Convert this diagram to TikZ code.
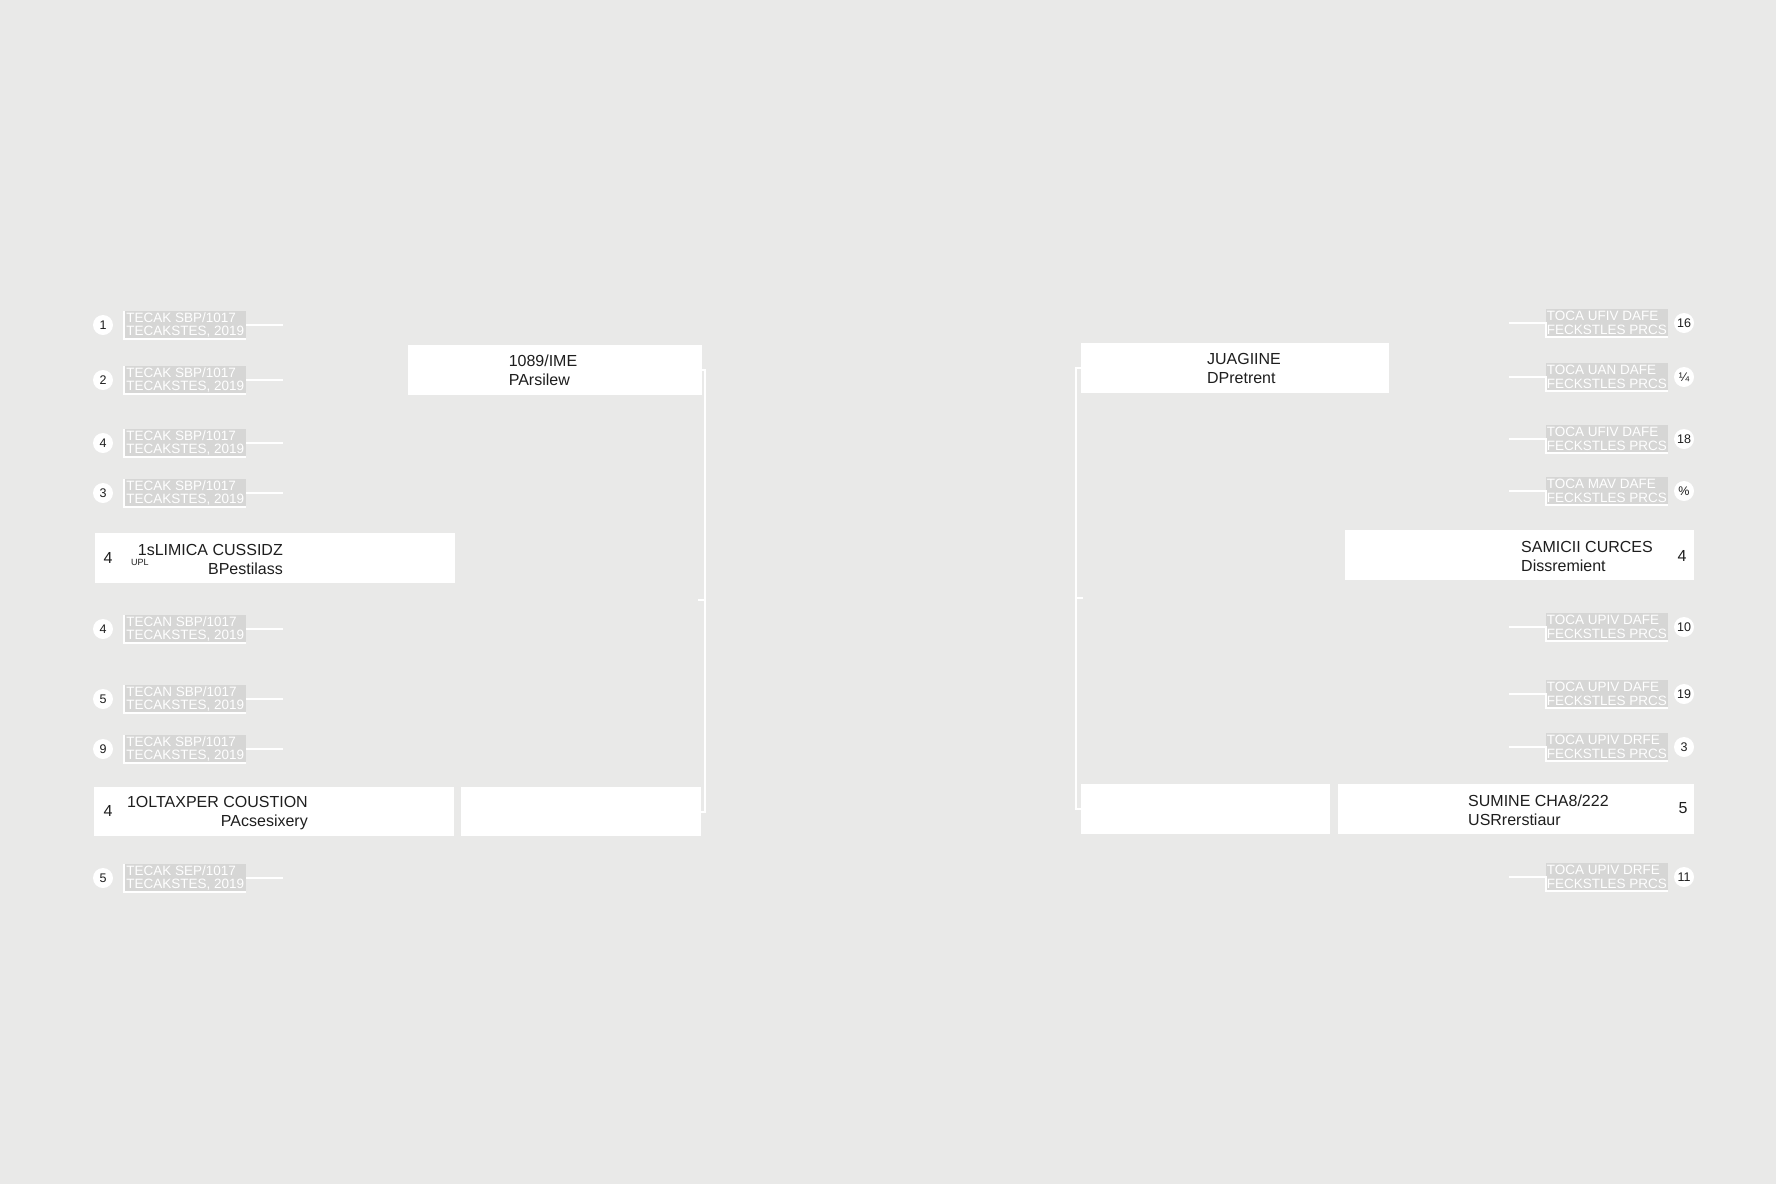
\documentclass[tikz,border=0pt]{standalone}
\usepackage{fontspec}
\setmainfont{Liberation Sans}
\definecolor{bg}{HTML}{E9E9E8}
\definecolor{chip}{HTML}{D6D6D5}
\definecolor{ink}{HTML}{1E1E1E}
\tikzset{
  conn/.style={draw=white, line width=2pt},
  bigbox/.style={fill=white, draw=none, inner sep=0pt, anchor=north west},
  bigtext/.style={text=ink, font=\fontsize{16}{19}\selectfont, inner sep=0pt},
  bignum/.style={text=ink, font=\fontsize{16}{16}\selectfont, inner sep=0pt},
  numc/.style={circle, fill=white, draw=none, minimum size=20pt, inner sep=0pt, text=ink, font=\fontsize{12.5}{12.5}\selectfont},
  chipbox/.style={fill=chip, draw=none, minimum width=122pt, minimum height=28pt, inner sep=0pt, align=left, text=white, font=\fontsize{13.5}{13.5}\selectfont}
}
\newcommand\mylentry[5]{%
  \node[numc] (#1n) at (103,#2) {#3};
  \node[chipbox, anchor=west] (#1b) at (124,#2) {#4\\#5};
  \coordinate (#1e) at (283,#2);
  \draw[conn] (#1b.north west) -- (#1b.south west) -- (#1b.south east);
  \draw[conn] (#1b.east) -- (#1e);
}
\newcommand\myrentry[5]{%
  \node[numc] (#1n) at (1684,#2) {#3};
  \node[chipbox, anchor=east] (#1b) at (1668,#2) {#4\\#5};
  \coordinate (#1e) at (1509,#2);
  \draw[conn] (#1e) -- (#1b.west) -- (#1b.south west) -- (#1b.south east);
}
\begin{document}
\begin{tikzpicture}[x=1pt,y=-1pt]
\useasboundingbox[fill=bg] (0,0) rectangle (1776,1184);

% left small entries
\mylentry{la}{325}{1}{TECAK SBP/1017}{TECAKSTES, 2019}
\mylentry{lb}{380}{2}{TECAK SBP/1017}{TECAKSTES, 2019}
\mylentry{lc}{443}{4}{TECAK SBP/1017}{TECAKSTES, 2019}
\mylentry{ld}{493}{3}{TECAK SBP/1017}{TECAKSTES, 2019}
\mylentry{le}{629}{4}{TECAN SBP/1017}{TECAKSTES, 2019}
\mylentry{lf}{699}{5}{TECAN SBP/1017}{TECAKSTES, 2019}
\mylentry{lg}{749}{9}{TECAK SBP/1017}{TECAKSTES, 2019}
\mylentry{lh}{878}{5}{TECAK SEP/1017}{TECAKSTES, 2019}

% right small entries
\myrentry{ra}{323}{16}{TOCA UFIV DAFE}{FECKSTLES PRCS}
\myrentry{rb}{377}{¼}{TOCA UAN DAFE}{FECKSTLES PRCS}
\myrentry{rc}{439}{18}{TOCA UFIV DAFE}{FECKSTLES PRCS}
\myrentry{rd}{491}{\%}{TOCA MAV DAFE}{FECKSTLES PRCS}
\myrentry{re}{627}{10}{TOCA UPIV DAFE}{FECKSTLES PRCS}
\myrentry{rf}{694}{19}{TOCA UPIV DAFE}{FECKSTLES PRCS}
\myrentry{rg}{747}{3}{TOCA UPIV DRFE}{FECKSTLES PRCS}
\myrentry{rh}{877}{11}{TOCA UPIV DRFE}{FECKSTLES PRCS}

% left big boxes
\node[bigbox, minimum width=294pt, minimum height=50pt] (tl) at (408,345) {};
\node[bigtext, align=left] (tlt) at (543,370) {1089/IME\\PArsilew};

\node[bigbox, minimum width=360pt, minimum height=50pt] (ml) at (95,533) {};
\node[bignum] (mln) at (108,558) {4};
\node[bigtext, align=right, anchor=east] (mlt) at (283,559) {1sLIMICA CUSSIDZ\\BPestilass};
\node[text=ink, font=\fontsize{9}{9}\selectfont, inner sep=0pt] (mlu) at (140,562) {UPL};

\node[bigbox, minimum width=360pt, minimum height=49pt] (bl) at (94,787) {};
\node[bignum] (bln) at (108,811) {4};
\node[bigtext, align=right, anchor=east] (blt) at (308,813) {1OLTAXPER COUSTION\\PAcsesixery};
\node[bigbox, minimum width=240pt, minimum height=49pt] (bl2) at (461,787) {};

% right big boxes
\node[bigbox, minimum width=308pt, minimum height=50pt] (tr) at (1081,343) {};
\node[bigtext, align=left] (trt) at (1244,368) {JUAGIINE\\DPretrent};

\node[bigbox, minimum width=349pt, minimum height=50pt] (mr) at (1345,530) {};
\node[bigtext, align=left, anchor=west] (mrt) at (1521,556) {SAMICII CURCES\\Dissremient};
\node[bignum] (mrn) at (1682,556) {4};

\node[bigbox, minimum width=249pt, minimum height=50pt] (br2) at (1081,784) {};
\node[bigbox, minimum width=356pt, minimum height=50pt] (br) at (1338,784) {};
\node[bigtext, align=left, anchor=west] (brt) at (1468,810) {SUMINE CHA8/222\\USRrerstiaur};
\node[bignum] (brn) at (1683,808) {5};

% brackets
\coordinate (lj) at (705,600);
\coordinate (ls) at (698,600);
\draw[conn] (tl.east) -- (tl.east -| lj) -- (bl2.east -| lj) -- (bl2.east);
\draw[conn] (ls) -- (lj);
\coordinate (rj) at (1076,598);
\coordinate (rs) at (1083,598);
\draw[conn] (tr.west) -- (tr.west -| rj) -- (br2.west -| rj) -- (br2.west);
\draw[conn] (rj) -- (rs);
\end{tikzpicture}
\end{document}
